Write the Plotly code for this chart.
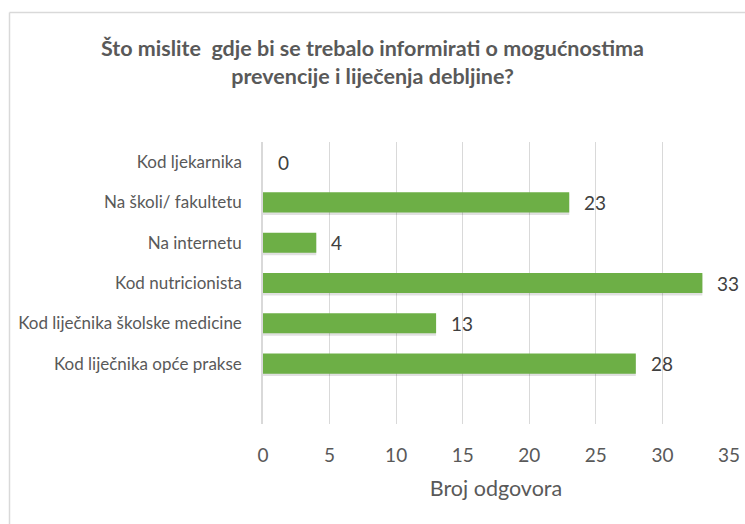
import plotly.graph_objects as go

# Survey answers: where respondents think information should be available
categories = [
    "Kod ljekarnika",
    "Na školi/ fakultetu",
    "Na internetu",
    "Kod nutricionista",
    "Kod liječnika školske medicine",
    "Kod liječnika opće prakse",
]
counts = [0, 23, 4, 33, 13, 28]
x_ticks = [0, 5, 10, 15, 20, 25, 30, 35]

title_text = ("<b>Što mislite  gdje bi se trebalo informirati o mogućnostima<br>"
              "prevencije i liječenja debljine?</b>")
font_family = "Lato, Open Sans, sans-serif"

W, H = 745, 524
ML, MR, MT, MB = 263, 16, 142, 100

fig = go.Figure()

# soft drop shadow under each bar
fig.add_trace(go.Bar(
    x=counts, y=categories, orientation="h",
    marker=dict(color="rgba(0,0,0,0.12)", line=dict(width=0)),
    width=0.52, offset=-0.21,
    hoverinfo="skip", showlegend=False,
))
fig.add_trace(go.Bar(
    x=counts, y=categories, orientation="h",
    marker=dict(color="#6DAF46", line=dict(width=0)),
    width=0.5, offset=-0.25,
    showlegend=False,
))

# value labels placed just past the bar ends
for c, v in zip(categories, counts):
    fig.add_annotation(
        x=v, y=c, text=str(v), showarrow=False,
        xanchor="left", yanchor="middle", xshift=13,
        font=dict(family=font_family, size=19, color="#404040"),
    )

# chart frame (top and left edges visible)
pw = W - ML - MR
ph = H - MT - MB
def px_x(p):
    return (p - ML) / pw
def px_y(p):
    return 1 - (p - MT) / ph
fig.add_shape(type="line", xref="paper", yref="paper",
              x0=px_x(9.5), x1=px_x(W + 5), y0=px_y(12.5), y1=px_y(12.5),
              line=dict(color="#D9D9D9", width=1.5))
fig.add_shape(type="line", xref="paper", yref="paper",
              x0=px_x(9.5), x1=px_x(9.5), y0=px_y(12.5), y1=px_y(H + 5),
              line=dict(color="#D9D9D9", width=1.5))

fig.update_layout(
    width=W, height=H,
    margin=dict(l=ML, r=MR, t=MT, b=MB, autoexpand=False),
    paper_bgcolor="white", plot_bgcolor="white",
    barmode="overlay",
    title=dict(text=title_text, x=0.5, xanchor="center", xref="container",
               y=1 - 56 / H, yanchor="middle",
               font=dict(family=font_family, size=21.5, color="#595959")),
    font=dict(family=font_family, color="#595959"),
    xaxis=dict(
        range=[0, 35], tickvals=x_ticks, ticks="",
        showgrid=True, gridcolor="#D9D9D9", gridwidth=1.3,
        zeroline=False, showline=False, automargin=False,
        tickfont=dict(size=19, color="#595959"),
        ticklabelstandoff=18,
        title=dict(text="Broj odgovora", standoff=15,
                   font=dict(size=21.5, color="#595959")),
        fixedrange=True,
    ),
    yaxis=dict(
        type="category", categoryorder="array", categoryarray=categories,
        range=[6.5, -0.5], ticks="", showgrid=False,
        showline=True, linecolor="#D9D9D9", linewidth=1.5,
        automargin=False,
        tickfont=dict(size=17, color="#595959"),
        ticklabelstandoff=16,
        fixedrange=True,
    ),
)

fig.write_html("out.html")
